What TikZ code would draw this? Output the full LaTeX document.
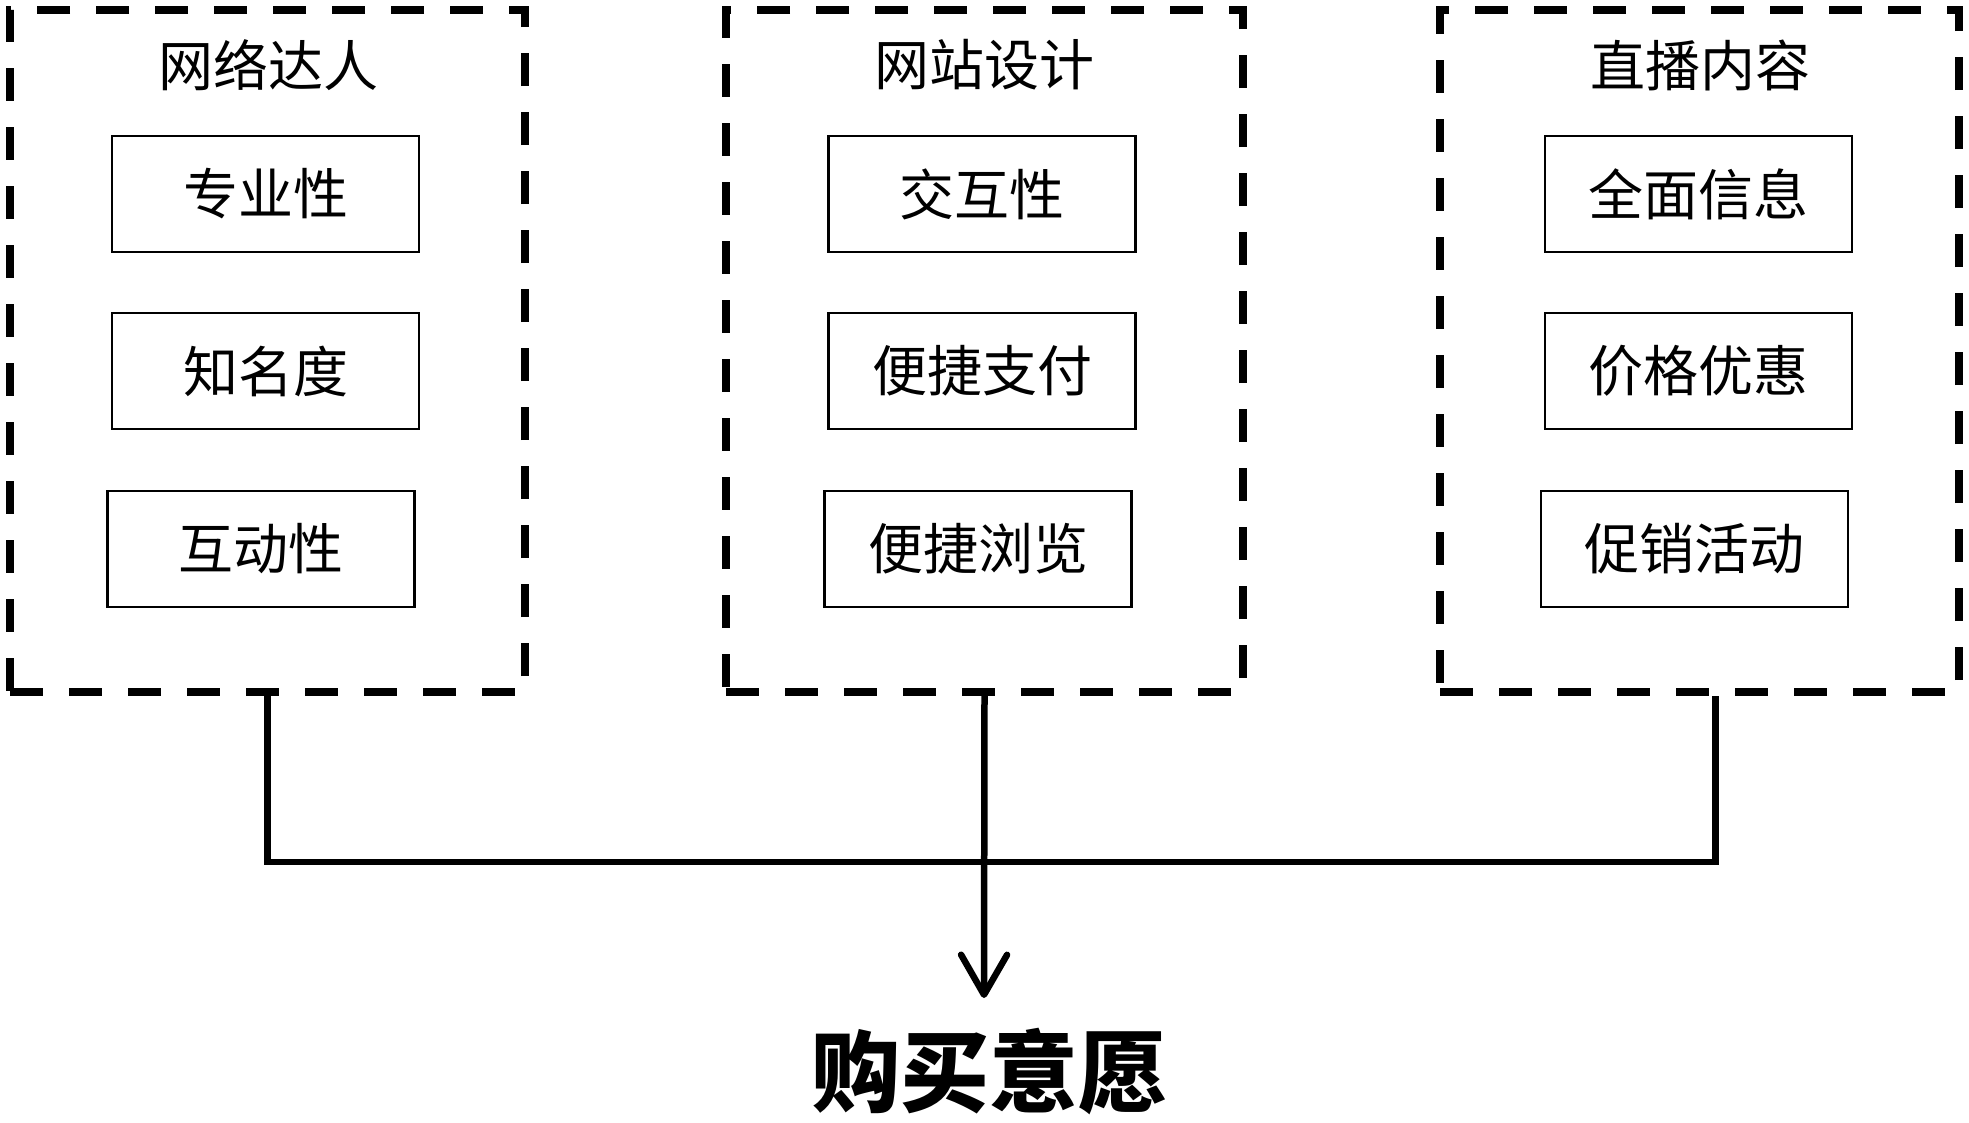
\documentclass[tikz,border=0pt]{standalone}
\usepackage{fontspec}
\newfontfamily\cjk{Noto Sans CJK SC}
\usetikzlibrary{arrows.meta}
\begin{document}
\begin{tikzpicture}[x=1pt,y=-1pt,
  group/.style={draw,line width=7.5pt,dash pattern=on 33pt off 26pt,minimum width=#1,minimum height=682pt,inner sep=0pt},
  itembox/.style={draw,line width=2.5pt,minimum width=307pt,minimum height=116pt,inner sep=0pt,font=\cjk\fontsize{55}{60}\selectfont},
  title/.style={font=\cjk\fontsize{55}{60}\selectfont,inner sep=0pt},
  conn/.style={line width=6.5pt},
  tip/.style={-{Straight Barb[length=40pt,width=46pt,line width=6.5pt,round]}}]
\useasboundingbox (0,0) rectangle (1969,1122);
% groups
\node[group=515pt] (L) at (267.5,351) {};
\node[group=517pt] (M) at (984.5,351) {};
\node[group=519pt] (R) at (1699.5,351) {};
% titles
\node[title] (Lt) at (268,65) {网络达人};
\node[title] (Mt) at (984,65) {网站设计};
\node[title] (Rt) at (1700,65) {直播内容};
% items
\node[itembox] (L1) at (265.5,194) {专业性};
\node[itembox] (L2) at (265.5,371) {知名度};
\node[itembox] (L3) at (261,549) {互动性};
\node[itembox] (M1) at (982,194) {交互性};
\node[itembox] (M2) at (982,371) {便捷支付};
\node[itembox] (M3) at (978,549) {便捷浏览};
\node[itembox] (R1) at (1698.5,194) {全面信息};
\node[itembox] (R2) at (1698.5,371) {价格优惠};
\node[itembox] (R3) at (1694.5,549) {促销活动};
% target
\node[font=\cjk\bfseries\fontsize{89}{95}\selectfont,inner sep=0pt] (T) at (989,1072) {购买意愿};
\coordinate (J) at (984,862);
\coordinate (A) at (984,998);
\coordinate (Rs) at ([xshift=16pt]R.south);
\draw[conn] (L.south) -- (L.south |- J) -- (Rs |- J) -- (Rs);
\draw[conn,tip] (M.south) -- (A);
\end{tikzpicture}
\end{document}
